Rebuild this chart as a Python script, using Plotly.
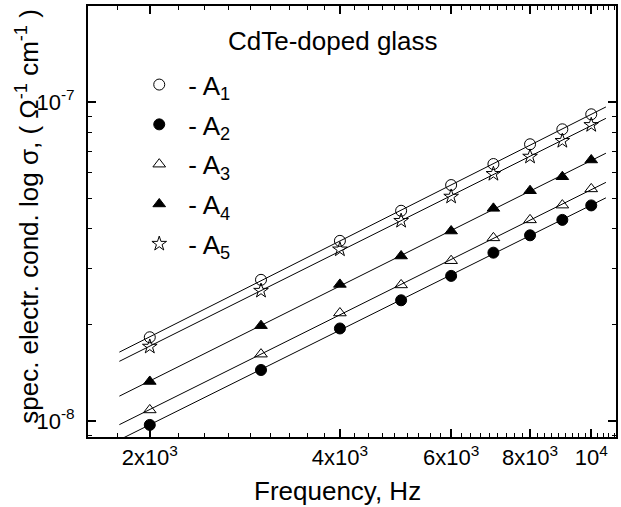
import numpy as np
import plotly.graph_objects as go

# ---- data ----
freq = [2000, 3000, 4000, 5000, 6000, 7000, 8000, 9000, 10000]
A1 = [1.83e-8, 2.77e-8, 3.67e-8, 4.56e-8, 5.49e-8, 6.39e-8, 7.37e-8, 8.21e-8, 9.15e-8]
A2 = [9.72e-9, 1.445e-8, 1.95e-8, 2.39e-8, 2.85e-8, 3.37e-8, 3.82e-8, 4.27e-8, 4.74e-8]
A3 = [1.083e-8, 1.62e-8, 2.18e-8, 2.67e-8, 3.18e-8, 3.75e-8, 4.27e-8, 4.75e-8, 5.34e-8]
A4 = [1.33e-8, 1.99e-8, 2.68e-8, 3.29e-8, 3.94e-8, 4.64e-8, 5.27e-8, 5.83e-8, 6.58e-8]
A5 = [1.71e-8, 2.56e-8, 3.45e-8, 4.24e-8, 5.05e-8, 5.95e-8, 6.74e-8, 7.55e-8, 8.47e-8]
series_names = ["- A<sub>1</sub>", "- A<sub>2</sub>", "- A<sub>3</sub>", "- A<sub>4</sub>", "- A<sub>5</sub>"]
fit_range = [1790, 10550]

x_tickvals = [2000, 4000, 6000, 8000, 10000]
x_ticktext = ["2x10<sup>3</sup>", "4x10<sup>3</sup>", "6x10<sup>3</sup>", "8x10<sup>3</sup>", "10<sup>4</sup>"]
y_tickvals = [1e-8, 1e-7]
y_ticktext = ["10<sup>-8</sup>", "10<sup>-7</sup>"]

x_minor = [2000 + k * 2000 / 9 for k in range(-1, 45) if (k % 9) != 0]
y_minor = [m * 10.0 ** e for e in (-9, -8, -7) for m in range(2, 10)]

FONT = "Liberation Sans, Arial, sans-serif"
symbols = ["circle-open", "circle", "triangle-up-open", "triangle-up", "star-open"]
sizes = [11, 11, 11, 11, 11]

fig = go.Figure()
all_series = [A1, A2, A3, A4, A5]
for i, ys in enumerate(all_series):
    lx = np.log10(freq)
    ly = np.log10(ys)
    b, a = np.polyfit(lx, ly, 1)
    fx = np.array(fit_range, dtype=float)
    fy = 10 ** (a + b * np.log10(fx))
    fig.add_trace(go.Scatter(x=fx, y=fy, mode="lines", line=dict(color="black", width=1),
                             showlegend=False, hoverinfo="skip"))
for i, ys in enumerate(all_series):
    fig.add_trace(go.Scatter(
        x=freq, y=ys, mode="markers", name=series_names[i], legendgroup=f"g{i}",
        marker=dict(symbol=symbols[i], size=sizes[i], color="black",
                    line=dict(color="black", width=1)),
    ))

fig.update_layout(
    width=621, height=507,
    margin=dict(l=88, r=3, t=6, b=70),
    paper_bgcolor="white", plot_bgcolor="white",
    font=dict(family=FONT, color="black"),
    legend=dict(x=0.08, y=0.872, xanchor="left", yanchor="top",
                font=dict(size=26, family=FONT), bgcolor="rgba(0,0,0,0)",
                tracegroupgap=3, itemwidth=48),
    annotations=[
        dict(text="CdTe-doped glass", x=0.2623, y=0.9188, xref="paper", yref="paper",
             xanchor="left", yanchor="middle", showarrow=False, font=dict(size=26, family=FONT)),
        dict(text="Frequency, Hz", x=0.4717, y=-0.125, xref="paper", yref="paper",
             xanchor="center", yanchor="middle", showarrow=False, font=dict(size=26, family=FONT)),
        dict(text="spec. electr. cond. log σ, ( Ω<sup>-1</sup> cm<sup>-1</sup> )", x=-0.114, y=0.5128,
             xref="paper", yref="paper", xanchor="center", yanchor="middle", textangle=-90,
             showarrow=False, font=dict(size=26, family=FONT)),
    ],
)
fig.update_xaxes(type="log", range=[3.2032, 4.0392], showgrid=False, zeroline=False,
                 showline=True, linecolor="black", linewidth=2, mirror="allticks",
                 ticks="inside", ticklen=8, tickwidth=1.5, tickcolor="black",
                 tickmode="array", tickvals=x_tickvals, ticktext=x_ticktext,
                 tickfont=dict(size=22, family=FONT),
                 minor=dict(tickmode="array", tickvals=x_minor, ticks="inside", ticklen=4,
                            tickwidth=1.2, tickcolor="black", showgrid=False))
fig.update_yaxes(type="log", range=[-8.0502, -6.6991], showgrid=False, zeroline=False,
                 showline=True, linecolor="black", linewidth=2, mirror="allticks",
                 ticks="inside", ticklen=8, tickwidth=1.5, tickcolor="black",
                 tickmode="array", tickvals=y_tickvals, ticktext=y_ticktext,
                 tickfont=dict(size=22, family=FONT), ticklabelstandoff=7,
                 minor=dict(tickmode="array", tickvals=y_minor, ticks="inside", ticklen=4,
                            tickwidth=1.2, tickcolor="black", showgrid=False))

fig.write_html("out.html")
